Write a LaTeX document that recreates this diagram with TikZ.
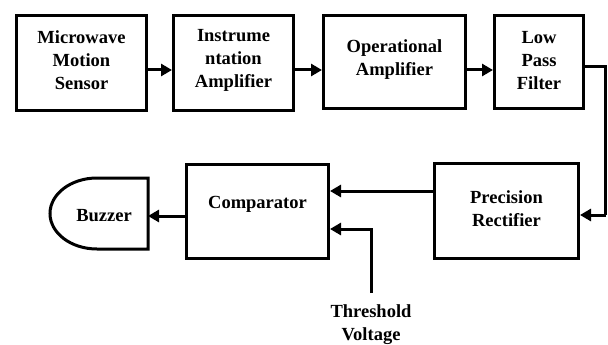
\documentclass[tikz,border=0pt]{standalone}
\usepackage{fontspec}
\setmainfont{Liberation Serif}[BoldFont={Liberation Serif Bold}]
\usetikzlibrary{arrows.meta}
\begin{document}
\begin{tikzpicture}[x=1pt,y=-1pt,
  blk/.style={draw,line width=3pt,minimum width=#1,inner sep=0pt},
  txt/.style={font=\bfseries\fontsize{18.5}{23}\selectfont,align=center,inner sep=0pt},
  conn/.style={line width=3pt,-{Triangle[length=11pt,width=12pt]}},
  plain/.style={line width=3pt}]
\useasboundingbox (0,0) rectangle (608,345);
\node[blk=130pt,minimum height=95pt] (b1) at (81.5,63) {};
\node[txt] (t1) at (81.5,60) {Microwave\\Motion\\Sensor};
\node[blk=120pt,minimum height=95pt] (b2) at (233.5,63) {};
\node[txt] (t2) at (233.5,60) {Instrume\\ntation\\Amplifier};
\node[blk=142pt,minimum height=93pt] (b3) at (394.5,62) {};
\node[txt] (t3) at (394.5,60) {Operational\\Amplifier};
\node[blk=89pt,minimum height=93pt] (b4) at (539,62) {};
\node[txt] (t4) at (539,61) {Low\\Pass\\Filter};
\node[blk=144pt,minimum height=95pt] (pr) at (506.5,211) {};
\node[txt] (tpr) at (506.5,208.5) {Precision\\Rectifier};
\node[blk=142pt,minimum height=94pt] (cmp) at (257.5,211.5) {};
\node[txt] (tcmp) at (257.5,204) {Comparator};
\coordinate (bzA) at (148,178);
\coordinate (bzB) at (97,178);
\coordinate (bzD) at (148,249);
\coordinate (bzIn) at (148,216);
\draw[line width=3pt,line join=miter] (bzA) -- (bzB) arc[start angle=90,end angle=270,x radius=47pt,y radius=35.5pt] -- (bzD) -- cycle;
\node[txt] (tbz) at (104,216) {Buzzer};
\node[txt] (tth) at (371,324.5) {Threshold\\Voltage};
\coordinate (th) at (371,293);
\coordinate (c1) at (605.5,67);
\coordinate (c2) at (605.5,215);
\draw[conn] ([yshift=-7pt]b1.east) -- ([yshift=-7pt]b2.west);
\draw[conn] ([yshift=-7pt]b2.east) -- (b3.west |- 0,70);
\draw[conn] (b3.east |- 0,70) -- (b4.west |- 0,70);
\draw[plain] (b4.east |- c1) -- (c1) -- (c2);
\draw[conn] (c2) -- (pr.east |- c2);
\draw[conn] (pr.west |- 0,191) -- (cmp.east |- 0,191);
\draw[conn] (th) |- (cmp.east |- 0,229);
\draw[conn] (cmp.west |- bzIn) -- (bzIn);
\end{tikzpicture}
\end{document}
